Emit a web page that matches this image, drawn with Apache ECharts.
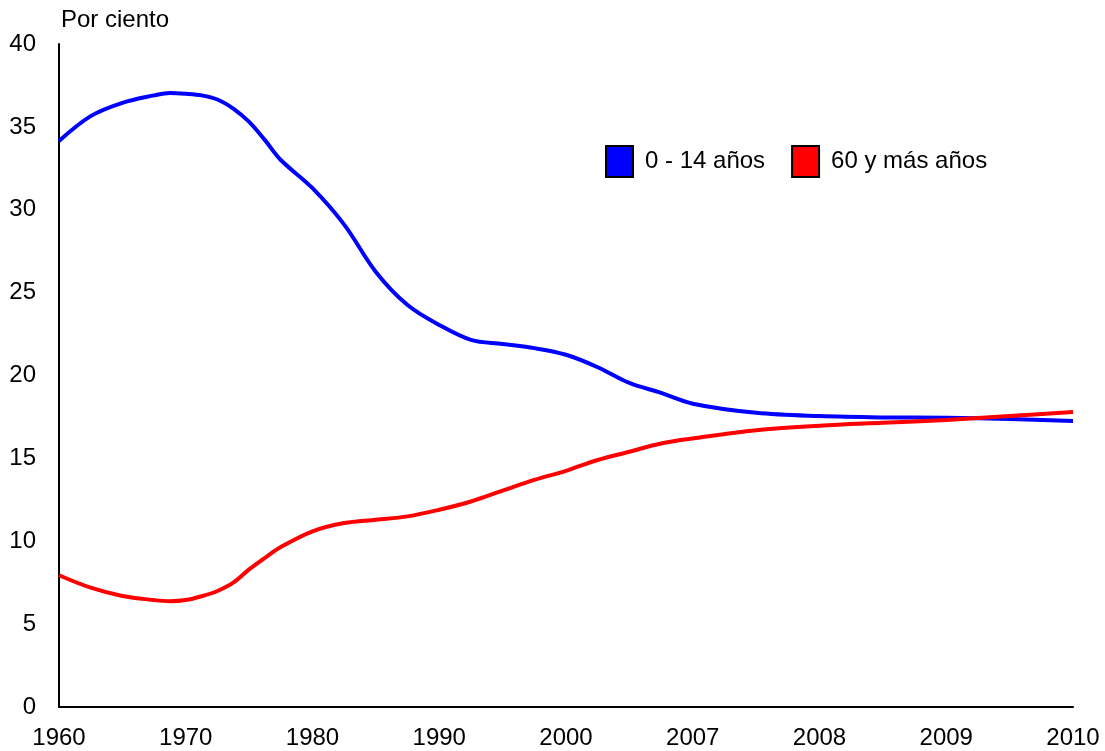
<!DOCTYPE html>
<html>
<head>
<meta charset="utf-8">
<script src="https://cdn.jsdelivr.net/npm/echarts@6/dist/echarts.min.js"></script>
<style>
html,body{margin:0;padding:0;background:#fff;}
#chart{width:1105px;height:751px;}
</style>
</head>
<body>
<div id="chart"></div>
<script>
// Tick labels of the x axis (equally spaced)
var tickLabels = ['1960', '1970', '1980', '1990', '2000', '2007', '2008', '2009', '2010'];
// Sample positions along the x axis (in tick-interval units)
var samplePos = [0, 0.25, 0.5, 0.75, 0.875, 1, 1.125, 1.25, 1.375, 1.5, 1.625, 1.75, 2, 2.25, 2.5, 2.75, 3, 3.25, 3.5, 3.75, 4, 4.25, 4.5, 4.75, 5, 5.5, 6, 6.5, 7, 7.5, 8];
// 0 - 14 años
var young = [34.15, 35.65, 36.45, 36.9, 37.05, 37.0, 36.9, 36.65, 36.1, 35.3, 34.2, 33.0, 31.3, 29.1, 26.25, 24.25, 23.05, 22.15, 21.9, 21.65, 21.25, 20.5, 19.55, 18.95, 18.3, 17.75, 17.55, 17.47, 17.45, 17.38, 17.25];
// 60 y más años
var old = [7.95, 7.2, 6.7, 6.45, 6.38, 6.45, 6.68, 7.0, 7.5, 8.3, 9.0, 9.65, 10.6, 11.1, 11.3, 11.5, 11.9, 12.4, 13.05, 13.7, 14.25, 14.9, 15.4, 15.9, 16.2, 16.7, 16.97, 17.15, 17.32, 17.55, 17.8];
var seriesNames = ['0 - 14 años', '60 y más años'];
var yTicks = [0, 5, 10, 15, 20, 25, 30, 35, 40];

function pairs(vals) { return vals.map(function (v, i) { return [samplePos[i], v]; }); }

var font = 'Liberation Sans, Arial, sans-serif';
var chart = echarts.init(document.getElementById('chart'), null, {renderer: 'canvas'});
chart.setOption({
  animation: false,
  backgroundColor: '#ffffff',
  grid: {left: 59, right: 32, top: 44, bottom: 44, containLabel: false},
  graphic: [{
    type: 'text', left: 61, top: 8,
    style: {text: 'Por ciento', font: '24px ' + font, fill: '#000'}
  }],
  legend: {
    left: 600, top: 140,
    itemWidth: 27, itemHeight: 31, itemGap: 26,
    icon: 'rect',
    data: seriesNames,
    textStyle: {fontFamily: font, fontSize: 24, color: '#000', padding: [0, 0, 0, 7]}
  },
  xAxis: {
    type: 'value', min: 0, max: tickLabels.length - 1, interval: 1,
    axisLine: {show: true, lineStyle: {color: '#000', width: 2}},
    axisTick: {show: false},
    splitLine: {show: false},
    axisLabel: {
      margin: 19, fontFamily: font, fontSize: 24, color: '#000',
      formatter: function (v) { return tickLabels[Math.round(v)]; }
    }
  },
  yAxis: {
    type: 'value', min: yTicks[0], max: yTicks[yTicks.length - 1], interval: 5,
    axisLine: {show: true, lineStyle: {color: '#000', width: 2}},
    axisTick: {show: false},
    splitLine: {show: false},
    axisLabel: {margin: 23, fontFamily: font, fontSize: 24, color: '#000'}
  },
  series: [{
    name: seriesNames[0], type: 'line', smooth: 0.35, showSymbol: false,
    data: pairs(young),
    lineStyle: {color: '#0000ff', width: 4},
    itemStyle: {color: '#0000ff', borderColor: '#000', borderWidth: 1.5}
  }, {
    name: seriesNames[1], type: 'line', smooth: 0.35, showSymbol: false,
    data: pairs(old),
    lineStyle: {color: '#ff0000', width: 4},
    itemStyle: {color: '#ff0000', borderColor: '#000', borderWidth: 1.5}
  }]
});
</script>
</body>
</html>
